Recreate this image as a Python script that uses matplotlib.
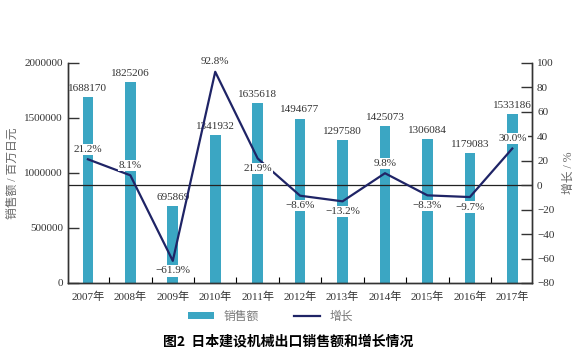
import numpy as np
import matplotlib.pyplot as plt
from matplotlib.ticker import FixedLocator, FuncFormatter

plt.rcParams['font.family'] = ['Liberation Serif', 'Noto Sans CJK SC']

years = ['2007年', '2008年', '2009年', '2010年', '2011年', '2012年',
         '2013年', '2014年', '2015年', '2016年', '2017年']
sales = [1688170, 1825206, 695869, 1341932, 1635618, 1494677,
         1297580, 1425073, 1306084, 1179083, 1533186]
growth = [21.2, 8.1, -61.9, 92.8, 21.9, -8.6, -13.2, 9.8, -8.3, -9.7, 30.0]
# 增长标签放在点的上方(1)或下方(-1)
growth_pos = [1, 1, -1, 1, -1, -1, -1, 1, -1, -1, 1]

bar_color = '#3ba6c3'
line_color = '#1f2466'
txt = '#333333'

fig = plt.figure(figsize=(5.76, 3.6), dpi=100)
ax = fig.add_axes([0.118, 0.214, 0.806, 0.611])
ax2 = ax.twinx()

x = np.arange(len(years))
ax.bar(x, sales, width=0.25, color=bar_color, label='销售额', zorder=2)
ax.set_ylim(0, 2000000)
ax.set_yticks(np.arange(0, 2000001, 500000))
ax.yaxis.set_major_formatter(FuncFormatter(lambda v, p: '%d' % v))
ax.set_xlim(-0.47, len(years) - 0.53)
ax.set_xticks(x)
ax.set_xticklabels(years)
ax.xaxis.set_minor_locator(FixedLocator(x[:-1] + 0.5))
ax.tick_params(axis='x', which='major', length=0, pad=6, labelsize=8, colors=txt)
ax.tick_params(axis='x', which='minor', direction='in', length=4, width=0.8)
ax.tick_params(axis='y', direction='in', length=8, width=1, labelsize=8, colors=txt)
ax.set_ylabel('销售额 / 百万日元', fontsize=8.5, color='#666666', labelpad=4)

for xi, v in zip(x, sales):
    ax.annotate(str(v), (xi, v), xytext=(0, 3), textcoords='offset points',
                ha='center', va='bottom', fontsize=8, color=txt, zorder=3)

ax2.plot(x, growth, color=line_color, lw=1.6, label='增长', zorder=3)
ax2.axhline(0, color='#222222', lw=0.9, zorder=1)
ax2.set_ylim(-80, 100)
ax2.set_yticks(np.arange(-80, 101, 20))
ax2.yaxis.set_major_formatter(FuncFormatter(lambda v, p: ('%d' % v).replace('-', '\u2212')))
ax2.tick_params(axis='y', direction='in', length=8, width=1, labelsize=8, colors=txt)
ax2.set_ylabel('增长 / %', fontsize=8.5, color='#666666', rotation=90, labelpad=6)

for xi, g, p in zip(x, growth, growth_pos):
    lab = ('%.1f%%' % g).replace('-', '\u2212')
    ax2.annotate(lab, (xi, g), xytext=(0, 4 * p), textcoords='offset points',
                 ha='center', va='bottom' if p > 0 else 'top', fontsize=8, color=txt,
                 bbox=dict(boxstyle='square,pad=0.1', fc='white', ec='none'), zorder=4)

for a in (ax, ax2):
    a.spines['top'].set_visible(False)
    for s in ('left', 'right', 'bottom'):
        a.spines[s].set_color('#333333')
        a.spines[s].set_linewidth(1)

h1, l1 = ax.get_legend_handles_labels()
h2, l2 = ax2.get_legend_handles_labels()
leg = fig.legend(h1 + h2, l1 + l2, loc='center', bbox_to_anchor=(0.47, 0.12), ncol=2,
                 frameon=False, fontsize=8.5, handlelength=2.2, handleheight=0.5,
                 columnspacing=3)
for t in leg.get_texts():
    t.set_color('#777777')

fig.text(0.5, 0.052, '图2  日本建设机械出口销售额和增长情况', ha='center', va='center',
         fontsize=10, fontweight='bold', family=['Noto Sans CJK SC', 'DejaVu Sans'])

fig.savefig('out.png', dpi=100)
